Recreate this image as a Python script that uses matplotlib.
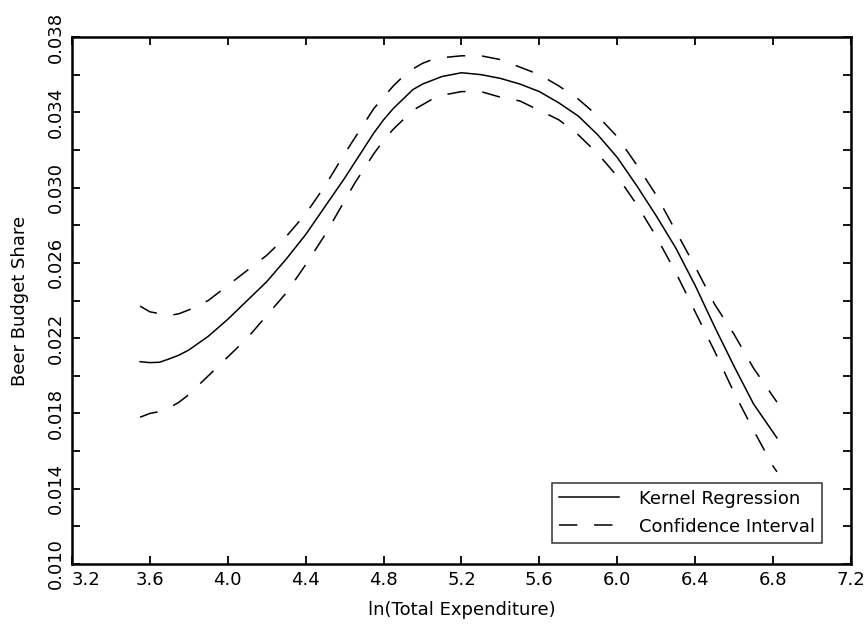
import numpy as np
import matplotlib
matplotlib.use("Agg")
import matplotlib.pyplot as plt
from matplotlib.ticker import FixedLocator, FormatStrFormatter

# values
x_grid = [3.55, 3.6, 3.65, 3.7, 3.75, 3.8, 3.9, 4.0, 4.1, 4.2, 4.3, 4.4, 4.5,
          4.6, 4.65, 4.7, 4.75, 4.8, 4.85, 4.9, 4.95, 5.0, 5.05, 5.1, 5.2,
          5.3, 5.4, 5.5, 5.6, 5.7, 5.8, 5.9, 6.0, 6.1, 6.2, 6.3, 6.4, 6.5,
          6.6, 6.7, 6.8, 6.82]
kernel = [0.02075, 0.0207, 0.02072, 0.0209, 0.0211, 0.02137, 0.0221, 0.0230,
          0.0240, 0.0250, 0.0262, 0.0275, 0.0290, 0.0305, 0.0313, 0.0321,
          0.0329, 0.0336, 0.0342, 0.0347, 0.0352, 0.0355, 0.0357, 0.0359,
          0.0361, 0.0360, 0.0358, 0.0355, 0.0351, 0.0345, 0.0338, 0.0328,
          0.0316, 0.0301, 0.0285, 0.0268, 0.0248, 0.0226, 0.0205, 0.0185,
          0.0170, 0.0167]
ci_upper = [0.0237, 0.0234, 0.0233, 0.0232, 0.0233, 0.0235, 0.0240, 0.0248,
            0.0256, 0.0264, 0.0274, 0.0286, 0.0301, 0.0318, 0.0326, 0.0334,
            0.0342, 0.0348, 0.0354, 0.0359, 0.0363, 0.0366, 0.0368, 0.0369,
            0.0370, 0.0370, 0.0368, 0.0364, 0.0360, 0.0354, 0.0347, 0.0338,
            0.0327, 0.0312, 0.0296, 0.0277, 0.0258, 0.0238, 0.0222, 0.0204,
            0.0189, 0.0186]
ci_lower = [0.0178, 0.0180, 0.0181, 0.0183, 0.0186, 0.0190, 0.0200, 0.0210,
            0.0220, 0.0232, 0.0244, 0.0259, 0.0275, 0.0293, 0.0302, 0.0310,
            0.0318, 0.0325, 0.0331, 0.0336, 0.0341, 0.0344, 0.0347, 0.0349,
            0.0351, 0.0351, 0.0348, 0.0346, 0.0341, 0.0336, 0.0328, 0.0318,
            0.0306, 0.0291, 0.0274, 0.0255, 0.0234, 0.0213, 0.0191, 0.0171,
            0.0152, 0.0149]

x_ticks = [3.2, 3.6, 4.0, 4.4, 4.8, 5.2, 5.6, 6.0, 6.4, 6.8, 7.2]
y_ticks = [0.010, 0.014, 0.018, 0.022, 0.026, 0.030, 0.034, 0.038]
y_minor = [0.012, 0.016, 0.020, 0.024, 0.028, 0.032, 0.036]

fig = plt.figure(figsize=(8.67, 6.29), dpi=100)
ax = fig.add_axes([0.083, 0.1033, 0.8985, 0.8379])

dash = (12, 11)
ax.plot(x_grid, kernel, color="black", lw=1.1, label="Kernel Regression")
ax.plot(x_grid, ci_upper, color="black", lw=1.1, dashes=dash,
        label="Confidence Interval")
ax.plot(x_grid, ci_lower, color="black", lw=1.1, dashes=dash)

ax.set_xlim(3.2, 7.2)
ax.set_ylim(0.010, 0.038)
ax.xaxis.set_major_locator(FixedLocator(x_ticks))
ax.xaxis.set_major_formatter(FormatStrFormatter("%.1f"))
ax.yaxis.set_major_locator(FixedLocator(y_ticks))
ax.yaxis.set_minor_locator(FixedLocator(y_minor))
ax.yaxis.set_major_formatter(FormatStrFormatter("%.3f"))

ax.tick_params(which="both", direction="in", top=True, right=True,
               length=6, width=1.3, labelsize=13, pad=5)
for lab in ax.get_yticklabels():
    lab.set_rotation(90)
    lab.set_va("center")
# first x label sits right of the corner, clear of the rotated 0.010
ax.xaxis.get_major_ticks()[0].label1.set_horizontalalignment("left")
for s in ax.spines.values():
    s.set_linewidth(1.8)

ax.set_xlabel("ln(Total Expenditure)", fontsize=13, labelpad=9)
ax.set_ylabel("Beer Budget Share", fontsize=13, labelpad=13)

leg = ax.legend(loc="lower right", fontsize=13, handlelength=3.3,
                handletextpad=1.1, labelspacing=0.55, borderpad=0.4,
                frameon=True, fancybox=False,
                bbox_to_anchor=(0.963, 0.04), borderaxespad=0)
leg.get_frame().set_edgecolor("black")
leg.get_frame().set_linewidth(1.1)

fig.savefig("out.png", dpi=100)
